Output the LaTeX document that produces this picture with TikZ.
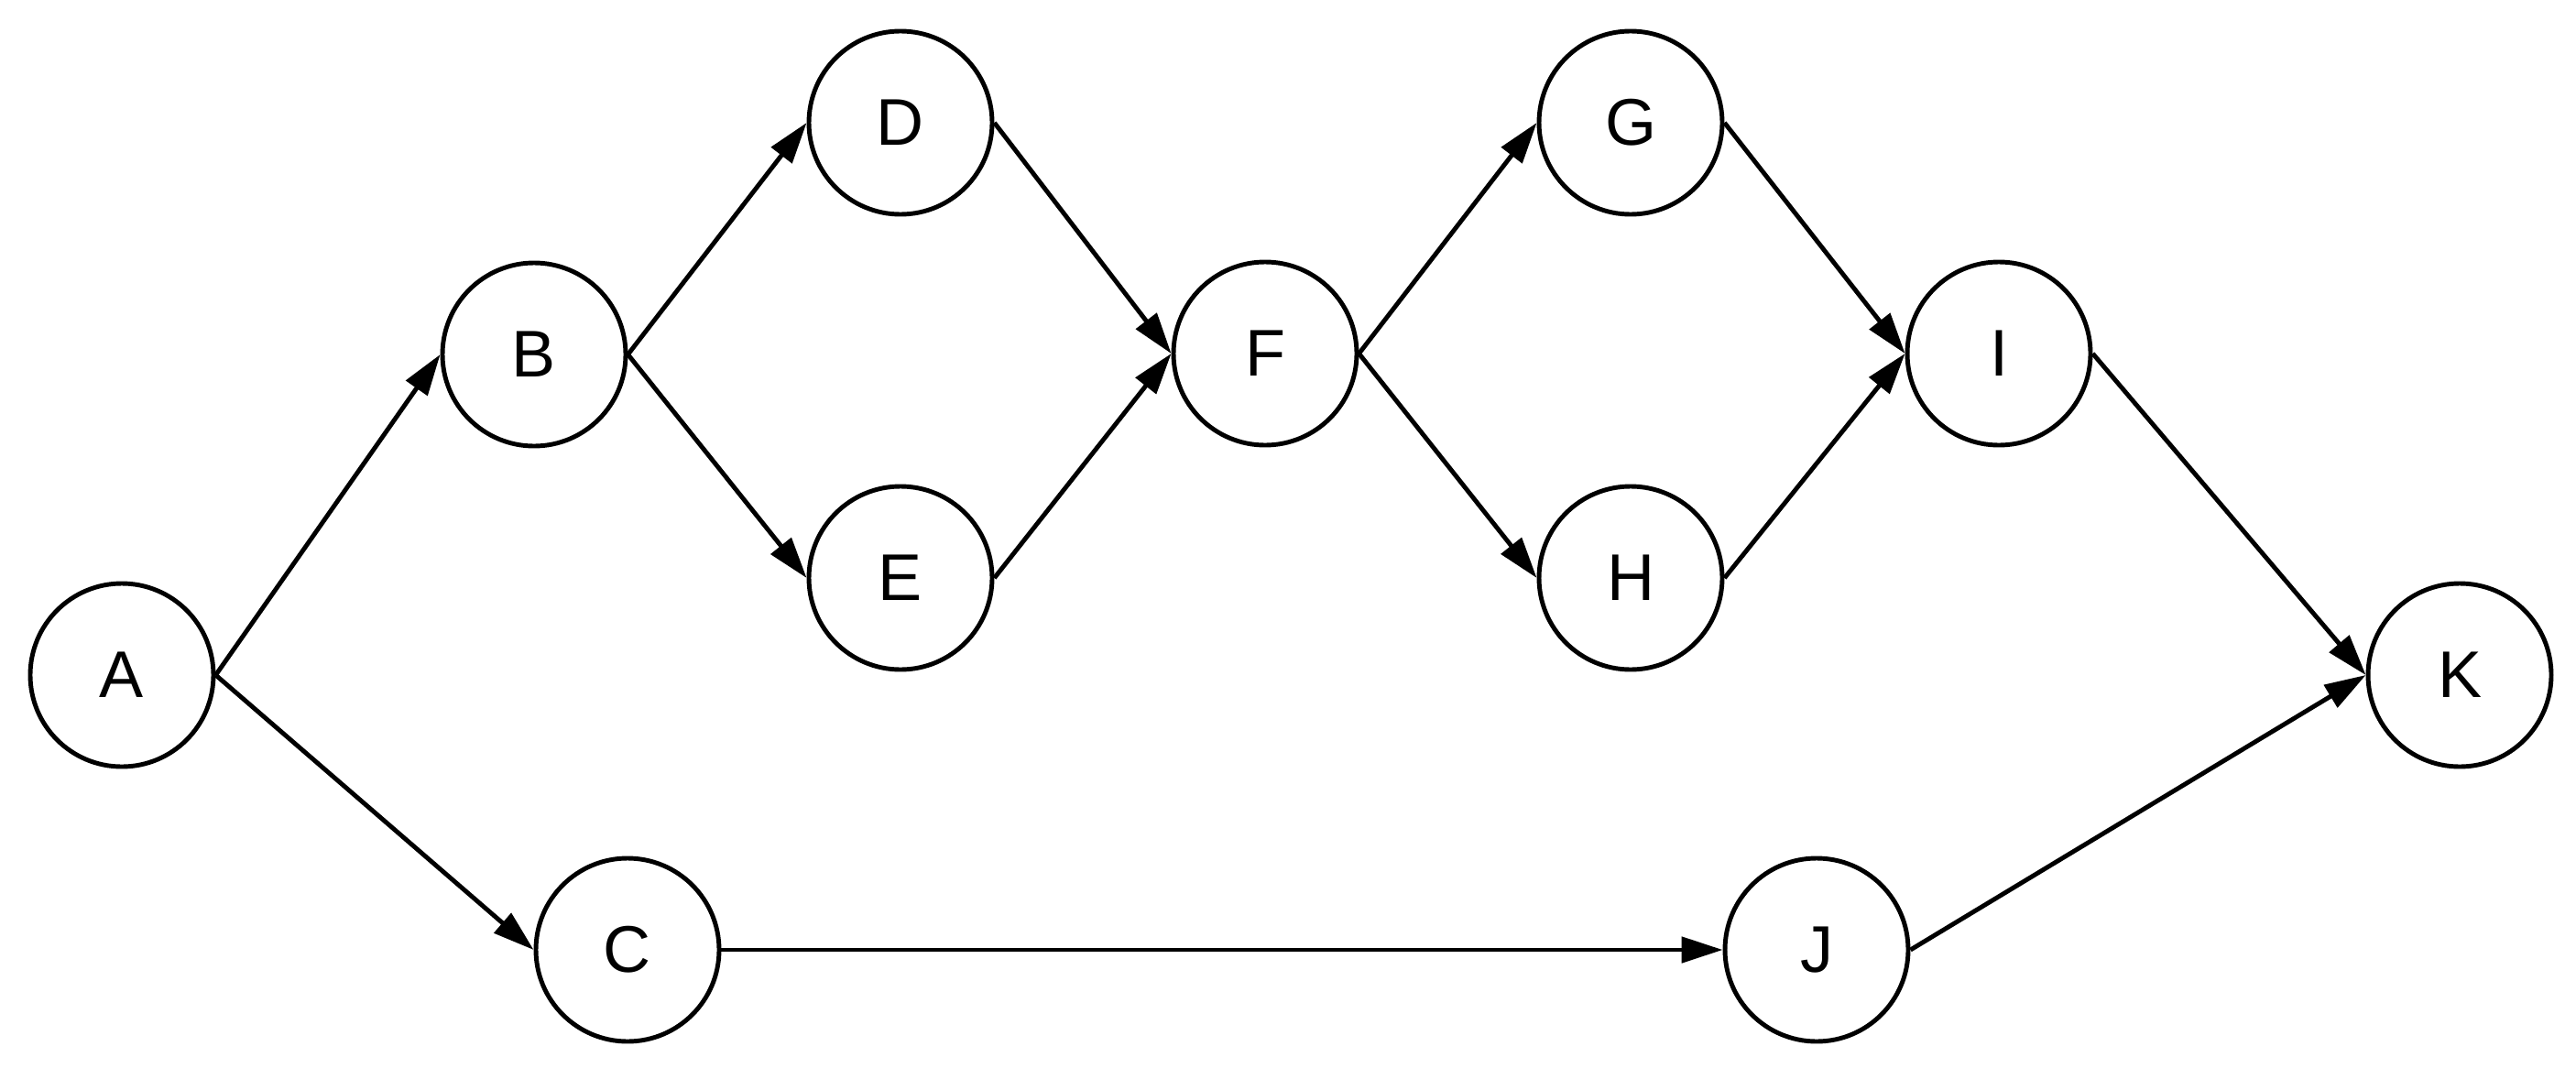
\documentclass[tikz,border=0pt]{standalone}
\usepackage{fontspec}
\setmainfont{Liberation Sans}
\usepackage{tikz}
\usetikzlibrary{positioning,arrows.meta}
\tikzstyle{event}=[circle, draw=black, line width=1.4pt, minimum size=2cm, inner sep=0pt,
text centered, font=\fontsize{20.5}{24}\selectfont]
\tikzstyle{link}=[-{Triangle[length=0.45cm,width=0.28cm]}, line width=1.4pt]

\begin{document}
\begin{tikzpicture}
            \useasboundingbox (0,0) rectangle (28.12,11.65);
            \node (A)[event] at (1.33,4.28) {A};
            \node (B)[event] at (5.83,7.78) {B};
            \node (C)[event] at (6.85,1.28) {C};
            \node (D)[event] at (9.83,10.31) {D};
            \node (E)[event] at (9.83,5.34) {E};
            \node (F)[event] at (13.81,7.79) {F};
            \node (G)[event] at (17.80,10.31) {G};
            \node (H)[event] at (17.80,5.34) {H};
            \node (I)[event] at (21.82,7.79) {I};
            \node (J)[event] at (19.83,1.28) {J};
            \node (K)[event] at (26.85,4.28) {K};
            \draw [link] (A.east) to (B.west);
            \draw [link] (A.east) to (C.west);
            \draw [link] (B.east) to (D.west);
            \draw [link] (B.east) to (E.west);
            \draw [link] (D.east) to (F.west);
            \draw [link] (E.east) to (F.west);
            \draw [link] (F.east) to (G.west);
            \draw [link] (F.east) to (H.west);
            \draw [link] (G.east) to (I.west);
            \draw [link] (H.east) to (I.west);
            \draw [link] (I.east) to (K.west);
            \draw [link] (C.east) to (J.west);
            \draw [link] (J.east) to (K.west);
        \end{tikzpicture}
\end{document}
